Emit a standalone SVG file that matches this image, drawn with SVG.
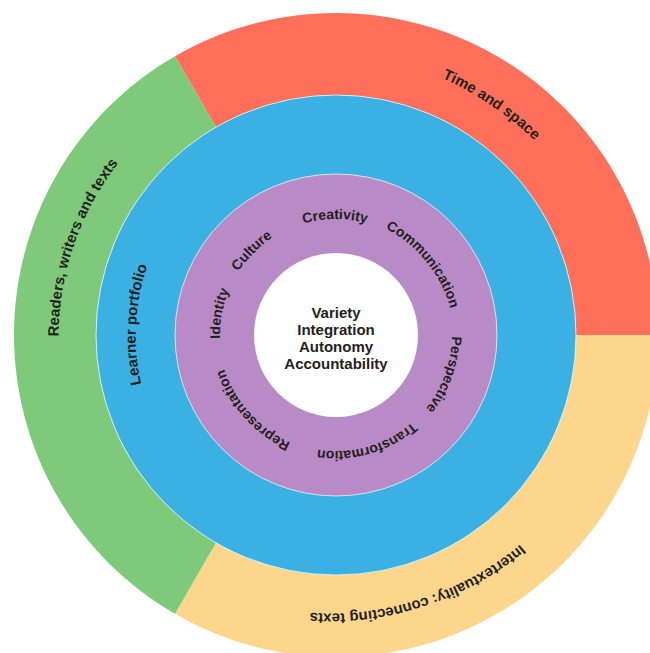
<svg xmlns="http://www.w3.org/2000/svg" width="650" height="653" viewBox="0 0 650 653">
  <style>
    .lbl { font-family: "Liberation Sans", Arial, Helvetica, sans-serif; font-weight: bold; fill: #231f20; }
    .outer { font-size: 15px; }
    .mid { font-size: 15px; }
    .inner { font-size: 14px; }
    .core { font-size: 15px; text-anchor: middle; }
    .ring { stroke: #ffffff; stroke-opacity: 0.7; stroke-width: 1; }
  </style>
  <defs>
    <path id="p-time" d="M181.1,564.6 A277,277 0 1 1 490.9,105.4 A277,277 0 1 1 181.1,564.6"/>
    <path id="p-readers" d="M597.9,425.2 A277,277 0 1 1 74.1,244.8 A277,277 0 1 1 597.9,425.2"/>
    <path id="p-inter" d="M250.4,71.6 A277,277 0 1 1 421.6,598.4 A277,277 0 1 1 250.4,71.6"/>
    <path id="p-learner" d="M535.7,345.5 A200,200 0 1 1 136.3,324.5 A200,200 0 1 1 535.7,345.5"/>
    <path id="p-identity" d="M450.1,356.1 A116,116 0 1 1 221.9,313.9 A116,116 0 1 1 450.1,356.1"/>
    <path id="p-culture" d="M418,417 A116,116 0 1 1 254,253 A116,116 0 1 1 418,417"/>
    <path id="p-creativity" d="M337,451 A116,116 0 1 1 335,219 A116,116 0 1 1 337,451"/>
    <path id="p-communication" d="M245.9,408 A116,116 0 1 1 426.1,262 A116,116 0 1 1 245.9,408"/>
    <path id="p-perspective" d="M227,295.3 A116,116 0 1 1 445,374.7 A116,116 0 1 1 227,295.3"/>
    <path id="p-transformation" d="M304,223.5 A116,116 0 1 1 368,446.5 A116,116 0 1 1 304,223.5"/>
    <path id="p-representation" d="M422.2,257.4 A116,116 0 1 1 249.8,412.6 A116,116 0 1 1 422.2,257.4"/>
  </defs>
  <rect width="650" height="653" fill="#ffffff"/>

  <g id="time-and-space">
    <path d="M175,56.14 A322,322 0 0 1 658,335 L576,335 A240,240 0 0 0 216,127.15 Z" fill="#ff6f5a"/>
    <text class="lbl outer"><textPath href="#p-time" startOffset="50%" text-anchor="middle">Time and space</textPath></text>
  </g>
  <g id="intertextuality">
    <path d="M658,335 A322,322 0 0 1 175,613.86 L216,542.85 A240,240 0 0 0 576,335 Z" fill="#fdd68d"/>
    <text class="lbl outer"><textPath href="#p-inter" startOffset="50%" text-anchor="middle">Intertextuality: connecting texts</textPath></text>
  </g>
  <g id="readers-writers-texts">
    <path d="M175,613.86 A322,322 0 0 1 175,56.14 L216,127.15 A240,240 0 0 0 216,542.85 Z" fill="#7fc97a"/>
    <text class="lbl outer"><textPath href="#p-readers" startOffset="50%" text-anchor="middle">Readers, writers and texts</textPath></text>
  </g>

  <g id="learner-portfolio">
    <circle class="ring" cx="336" cy="335" r="240" fill="#3bb1e3"/>
    <text class="lbl mid"><textPath href="#p-learner" startOffset="50%" text-anchor="middle">Learner portfolio</textPath></text>
  </g>

  <g id="concepts">
    <circle class="ring" cx="336" cy="335" r="161" fill="#b98bc6"/>
    <text class="lbl inner"><textPath href="#p-identity" startOffset="50%" text-anchor="middle">Identity</textPath></text>
    <text class="lbl inner"><textPath href="#p-culture" startOffset="50%" text-anchor="middle">Culture</textPath></text>
    <text class="lbl inner"><textPath href="#p-creativity" startOffset="50%" text-anchor="middle">Creativity</textPath></text>
    <text class="lbl inner"><textPath href="#p-communication" startOffset="50%" text-anchor="middle">Communication</textPath></text>
    <text class="lbl inner"><textPath href="#p-perspective" startOffset="50%" text-anchor="middle">Perspective</textPath></text>
    <text class="lbl inner"><textPath href="#p-transformation" startOffset="50%" text-anchor="middle">Transformation</textPath></text>
    <text class="lbl inner"><textPath href="#p-representation" startOffset="50%" text-anchor="middle">Representation</textPath></text>
  </g>

  <g id="core">
    <circle cx="336" cy="335" r="82" fill="#ffffff"/>
    <text class="lbl core" x="336" y="318">Variety</text>
    <text class="lbl core" x="336" y="335">Integration</text>
    <text class="lbl core" x="336" y="352">Autonomy</text>
    <text class="lbl core" x="336" y="369">Accountability</text>
  </g>
</svg>
